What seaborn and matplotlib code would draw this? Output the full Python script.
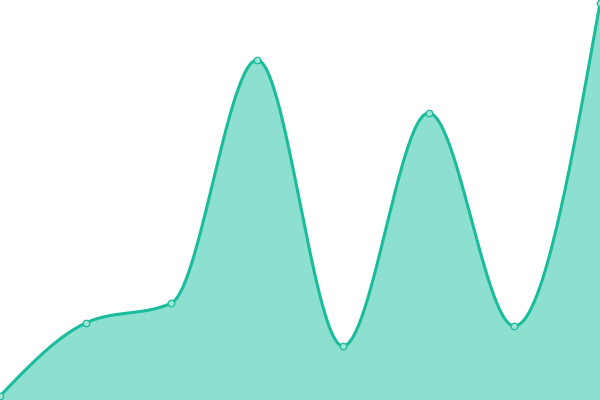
import numpy as np
import pandas as pd
import matplotlib
matplotlib.use('Agg')
import matplotlib.pyplot as plt
import seaborn as sns

# data (x = point index, y = value, 0..400 scale)
points = [0, 1, 2, 3, 4, 5, 6, 7]
values = [4, 77, 97, 340, 54, 287, 74, 397]

line_color = '#1abc9c'
fill_color = '#8ddfcf'


def monotone_x(xs, ys, n=60):
    # d3 curveMonotoneX style smoothing (Fritsch-Carlson tangents, cubic hermite)
    xs = np.asarray(xs, float)
    ys = np.asarray(ys, float)
    h = np.diff(xs)
    s = np.diff(ys) / h
    t = np.zeros(len(xs))
    for i in range(1, len(xs) - 1):
        p = (s[i - 1] * h[i] + s[i] * h[i - 1]) / (h[i - 1] + h[i])
        t[i] = (np.sign(s[i - 1]) + np.sign(s[i])) * min(abs(s[i - 1]), abs(s[i]), 0.5 * abs(p))
    t[0] = (3 * s[0] - t[1]) / 2
    t[-1] = (3 * s[-1] - t[-2]) / 2
    out_x, out_y = [], []
    for i in range(len(xs) - 1):
        u = np.linspace(0, 1, n, endpoint=(i == len(xs) - 2))
        h00 = 2 * u**3 - 3 * u**2 + 1
        h10 = u**3 - 2 * u**2 + u
        h01 = -2 * u**3 + 3 * u**2
        h11 = u**3 - u**2
        out_x.append(xs[i] + u * h[i])
        out_y.append(h00 * ys[i] + h10 * h[i] * t[i] + h01 * ys[i + 1] + h11 * h[i] * t[i + 1])
    return np.concatenate(out_x), np.concatenate(out_y)


df = pd.DataFrame({'x': points, 'y': values})
cx, cy = monotone_x(df['x'], df['y'])
curve = pd.DataFrame({'x': cx, 'y': cy})

sns.set_style('white')
fig = plt.figure(figsize=(6, 4), dpi=100)
ax = fig.add_axes([0, 0, 1, 1])

ax.fill_between(curve['x'], curve['y'], 0, color=fill_color, linewidth=0)
sns.lineplot(data=curve, x='x', y='y', ax=ax, color=line_color, linewidth=2.2, sort=False)
sns.scatterplot(data=df, x='x', y='y', ax=ax, s=22, color='#9fe5d7',
                edgecolor=line_color, linewidth=0.9, zorder=5)

ax.set_xlim(0, 7)
ax.set_ylim(0, 400)
ax.axis('off')

fig.savefig('out.png', dpi=100)
